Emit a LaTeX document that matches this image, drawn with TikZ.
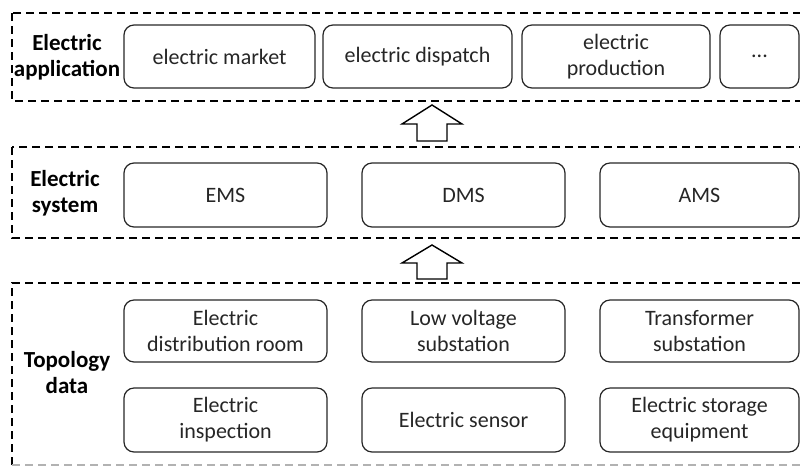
\documentclass[tikz,border=0pt]{standalone}
\usepackage{fontspec}
\setmainfont{Carlito}
\begin{document}
\begin{tikzpicture}[x=1pt,y=-1pt,
  box/.style={draw=black!85, line width=1.2pt, rounded corners=10pt, align=center, inner sep=0pt, font=\fontsize{22}{26}\selectfont, text=black!85},
  layer/.style={draw=black, line width=1.5pt, dash pattern=on 8pt off 5pt},
  lab/.style={align=center, font=\bfseries\fontsize{23}{26}\selectfont, inner sep=0pt},
  blockarrow/.style={draw=black, line width=1.4pt, fill=white}]
\useasboundingbox (0,0) rectangle (800,467);
\clip (0,0) rectangle (800,467);
% layers
\draw[layer] (12,13) rectangle (806,101);
\draw[layer] (12,147) rectangle (806,238);
\draw[layer] (12,465) -- (12,283) -- (806,283);
\draw[layer, draw=black!30] (12,465) -- (806,465);
% labels
\node[lab] (lapp) at (67,57) {Electric\\application};
\node[lab] (lsys) at (65,193) {Electric\\system};
\node[lab] (ltop) at (67,373) {Topology\\data};
% top row
\node[box, minimum width=191pt, minimum height=63pt] (market) at (219.5,56.5) {electric market};
\node[box, minimum width=189pt, minimum height=63pt] (dispatch) at (417.5,56.5) {electric dispatch};
\node[box, minimum width=188pt, minimum height=63pt] (production) at (616,56.5) {electric\\production};
\node[box, minimum width=79pt, minimum height=63pt] (more) at (759.5,56.5) {...};
% system row
\node[box, minimum width=203pt, minimum height=64pt] (ems) at (225.5,195) {EMS};
\node[box, minimum width=203pt, minimum height=64pt] (dms) at (463.5,195) {DMS};
\node[box, minimum width=199pt, minimum height=64pt] (ams) at (699.5,195) {AMS};
% topology rows
\node[box, minimum width=203pt, minimum height=62pt] (room) at (225.5,331) {Electric\\distribution room};
\node[box, minimum width=203pt, minimum height=62pt] (lowv) at (463.5,331) {Low voltage\\substation};
\node[box, minimum width=199pt, minimum height=62pt] (trans) at (699.5,331) {Transformer\\substation};
\node[box, minimum width=203pt, minimum height=64pt] (insp) at (225.5,420) {Electric\\inspection};
\node[box, minimum width=203pt, minimum height=64pt] (sensor) at (463.5,420) {Electric sensor};
\node[box, minimum width=199pt, minimum height=64pt] (storage) at (699.5,420) {Electric storage\\equipment};
% block arrows
\draw[blockarrow] (417,141) -- (417,124) -- (402,124) -- (432,105) -- (462,124) -- (447,124) -- (447,141) -- cycle;
\draw[blockarrow] (417,279) -- (417,263) -- (402,263) -- (432,245) -- (462,263) -- (447,263) -- (447,279) -- cycle;
\end{tikzpicture}
\end{document}
